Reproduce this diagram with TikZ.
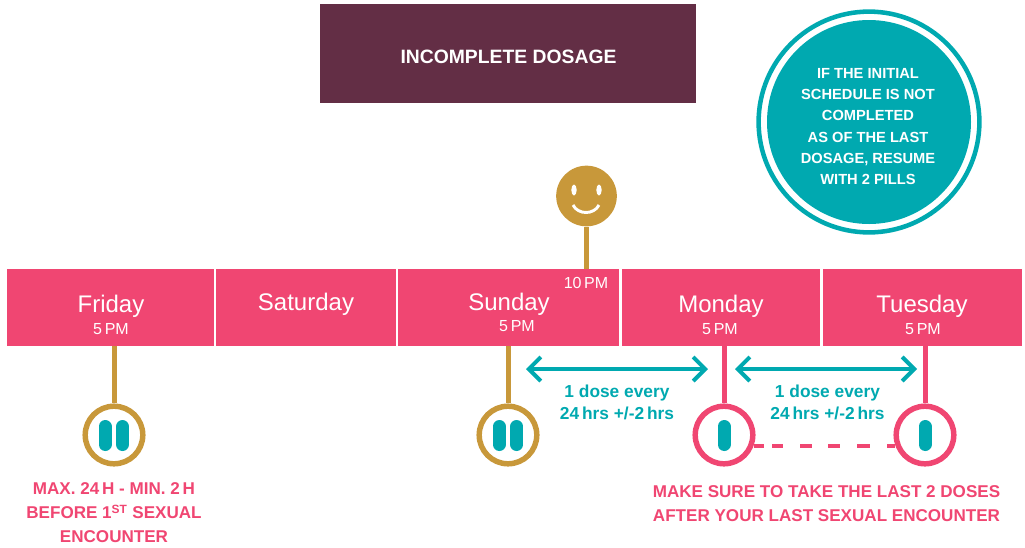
\documentclass[tikz,border=0pt]{standalone}
\usepackage{fontspec}
\setmainfont{Liberation Sans}
\usetikzlibrary{arrows.meta}
\definecolor{daypink}{HTML}{F04672}
\definecolor{pillteal}{HTML}{00A9B0}
\definecolor{stemgold}{HTML}{C8983A}
\definecolor{titlewine}{HTML}{632E45}
\tikzset{
  daybar/.style={fill=daypink,inner sep=0pt,minimum height=57.75pt},
  dayname/.style={text=white,font=\fontsize{18}{18}\selectfont,inner sep=0pt},
  daytime/.style={text=white,font=\fontsize{12}{12}\selectfont,inner sep=0pt},
  stemline/.style={line width=3.75pt},
  pillring/.style={circle,draw=#1,line width=4.1pt,fill=white,minimum size=43.2pt,inner sep=0pt},
  pillmark/.style={draw=pillteal,line width=9.75pt,line cap=round},
  dosearrow/.style={draw=pillteal,line width=3pt,{Straight Barb[length=9pt,width=18pt,line width=3pt]}-{Straight Barb[length=9pt,width=18pt,line width=3pt]}},
  dosetext/.style={text=pillteal,font=\bfseries\fontsize{13}{16.5}\selectfont,align=center,inner sep=0pt},
  warntext/.style={text=daypink,font=\bfseries\fontsize{12.8}{18}\selectfont,align=center,inner sep=0pt},
}
\begin{document}
\begin{tikzpicture}[x=0.75pt,y=-0.75pt]
    \useasboundingbox (0,0) rectangle (1025,547);
    % Title and round note
    \node (title) at (508,53.5) [fill=titlewine,minimum width=282pt,minimum height=74.25pt,inner sep=0pt] {};
    \node (titletext) at (508.5,56.5) [text=white,font=\bfseries\fontsize{14.5}{14.5}\selectfont,inner sep=0pt] {INCOMPLETE DOSAGE};
    \node (notering) at (869,122) [circle,draw=pillteal,line width=3.4pt,minimum size=165.6pt,inner sep=0pt] {};
    \node (note) at (869,122) [circle,fill=pillteal,minimum size=153pt,inner sep=0pt] {};
    \node (notetext) at (868,126.5) [text=white,font=\bfseries\fontsize{11}{15.9}\selectfont,align=center,inner sep=0pt]
        {IF THE INITIAL\\SCHEDULE IS NOT\\COMPLETED\\AS OF THE LAST\\DOSAGE, RESUME\\WITH 2 PILLS};
    % Day bars
    \foreach \bar/\barleft/\barright in {friday/7/214,saturday/216/396,sunday/398/619,monday/622/820,tuesday/823/1022}
    {
        \pgfmathsetmacro{\barwd}{0.75*(\barright-\barleft)}
        \node (\bar) at ({(\barleft+\barright)/2},307.5) [daybar,minimum width=\barwd pt] {};
    }
    % Day labels
    \node (fridayname) at (111,306.5) [dayname] {Friday};
    \node (fridaytime) at (111,329.5) [daytime] {5\,PM};
    \node (saturdayname) at (306,304.5) [dayname] {Saturday};
    \node (sundayname) at (509,304.5) [dayname] {Sunday};
    \node (sundaytime) at (517,326.5) [daytime] {5\,PM};
    \node (sundaylate) at (586,283) [daytime] {10\,PM};
    \node (mondayname) at (721,306.5) [dayname] {Monday};
    \node (mondaytime) at (720,329.5) [daytime] {5\,PM};
    \node (tuesdayname) at (922,306.5) [dayname] {Tuesday};
    \node (tuesdaytime) at (923,329.5) [daytime] {5\,PM};
    % Smiley
    \node (smiley) at (586.5,196) [circle,fill=stemgold,minimum size=45.5pt,inner sep=0pt] {};
    \draw[stemline,draw=stemgold] (smiley.south) -- (smiley.south |- sunday.north);
    \fill[white] (574,190) ellipse (2.7 and 5.5);
    \fill[white] (599,190) ellipse (2.7 and 5.5);
    \draw[white,line width=2.2pt] (573,205) .. controls (578,215) and (594,215) .. (599,205);
    % Pill circles
    \node (fridaypill) at (114,435) [pillring=stemgold] {};
    \node (sundaypill) at (508,435) [pillring=stemgold] {};
    \node (mondaypill) at (724,435) [pillring=daypink] {};
    \node (tuesdaypill) at (925,435) [pillring=daypink] {};
    \draw[stemline,draw=stemgold] (fridaypill.north) -- (fridaypill.north |- friday.south);
    \draw[stemline,draw=stemgold] (sundaypill.north) -- (sundaypill.north |- sunday.south);
    \draw[stemline,draw=daypink] (mondaypill.north) -- (mondaypill.north |- monday.south);
    \draw[stemline,draw=daypink] (tuesdaypill.north) -- (tuesdaypill.north |- tuesday.south);
    \draw[draw=daypink,line width=3pt,dash pattern=on 7.8pt off 6pt on 8.25pt off 12.75pt on 9pt off 12pt on 9pt off 12.75pt on 9.75pt off 12.75pt on 12pt off 12pt] (mondaypill.-20) -- (tuesdaypill.200);
    \foreach \pillx in {105,122.5,499.25,516.75,724,925}
    {
        \draw[pillmark] (\pillx,426.5) -- (\pillx,444.5);
    }
    % Dose arrows
    \coordinate (dosea) at (526,369);
    \coordinate (doseb) at (708,369);
    \coordinate (dosec) at (735,369);
    \coordinate (dosed) at (917,369);
    \draw[dosearrow] (dosea) -- (doseb);
    \draw[dosearrow] (dosec) -- (dosed);
    \node (dosetextone) at (617,402) [dosetext] {1 dose every\\24\,hrs +/-2\,hrs};
    \node (dosetexttwo) at (827.5,402) [dosetext] {1 dose every\\24\,hrs +/-2\,hrs};
    % Warnings
    \node (fridaywarn) at (114,513) [warntext] {MAX. 24\,H - MIN. 2\,H\\BEFORE 1\textsuperscript{ST} SEXUAL\\ENCOUNTER};
    \node (lastwarn) at (826.5,503.5) [warntext] {MAKE SURE TO TAKE THE LAST 2 DOSES\\AFTER YOUR LAST SEXUAL ENCOUNTER};
\end{tikzpicture}
\end{document}
